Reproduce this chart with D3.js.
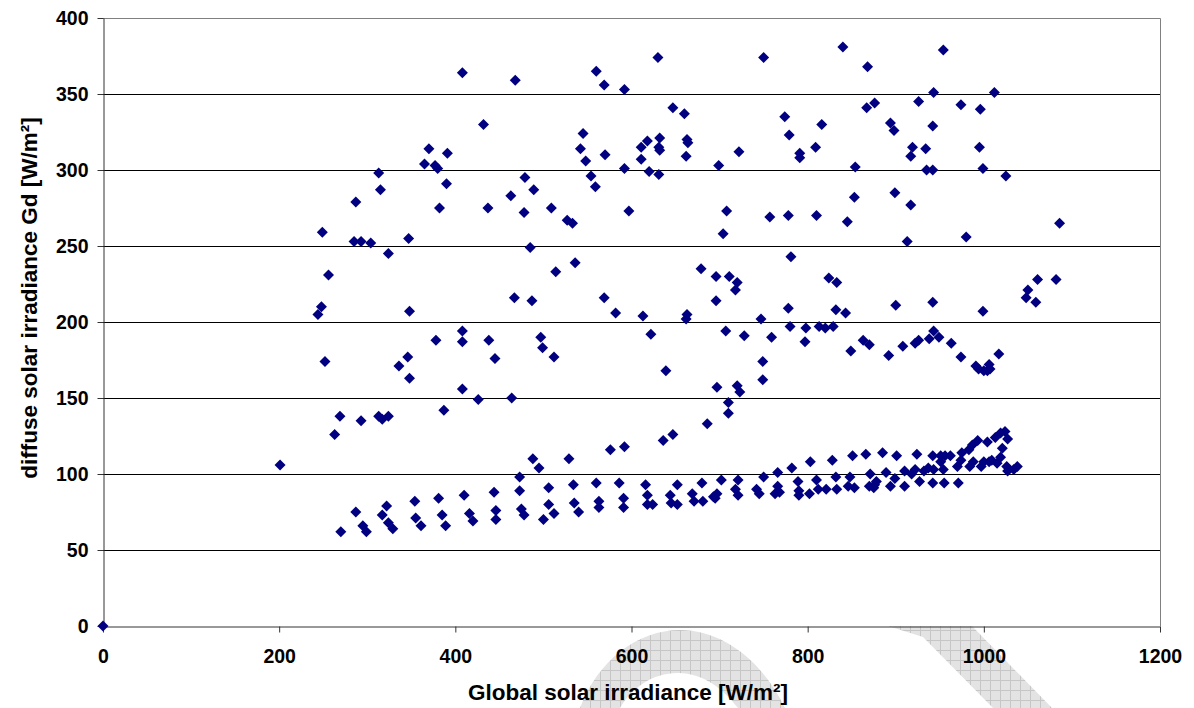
<!DOCTYPE html>
<html>
<head>
<meta charset="utf-8">
<script src="https://cdn.jsdelivr.net/npm/d3@7"></script>
<style>
  body { margin: 0; background: #fff; }
  svg { display: block; font-family: "Liberation Sans", Arial, sans-serif; font-weight: bold; }
</style>
</head>
<body>
<svg id="chart" width="1194" height="708"></svg>
<script>
// global irradiance G [W/m2]
const globalIrr = [
  0, 201, 244, 248, 249, 252, 256, 263, 269, 285, 287, 293, 293, 304, 313, 315, 313, 317, 324, 324,
  336, 346, 347, 348, 348, 365, 370, 377, 380, 378, 382, 387, 390, 391, 408, 408, 408, 408, 426, 432,
  437, 438, 445, 463, 464, 467, 468, 478, 479, 485, 487, 489, 497, 499, 509, 512, 514, 527, 533, 536,
  542, 545, 548, 554, 559, 560, 569, 569, 570, 582, 592, 592, 597, 611, 611, 613, 618, 620, 622, 630,
  631, 631, 632, 632, 639, 647, 660, 662, 662, 663, 663, 664, 679, 696, 696, 697, 699, 704, 707, 708,
  710, 710, 711, 718, 720, 720, 722, 723, 728, 747, 749, 749, 750, 757, 759, 774, 778, 778, 779, 780,
  781, 791, 791, 797, 798, 809, 810, 813, 816, 820, 824, 829, 832, 833, 840, 843, 845, 849, 853, 854,
  863, 867, 868, 870, 876, 892, 894, 898, 899, 900, 908, 913, 917, 917, 919, 922, 926, 926, 934, 935,
  938, 942, 942, 942, 943, 943, 949, 954, 963, 974, 974, 980, 991, 994, 995, 996, 999, 999, 1000, 1004,
  1006, 1007, 1012, 1017, 1025, 1048, 1050, 1059, 1061, 1082, 1086,
  // rising middle band
  473, 488, 495, 529, 576, 592, 636, 647, 686,
  // lower band
  270, 287, 295, 299, 317, 322, 324, 329, 354, 355, 361, 381, 385, 389, 410, 416, 420, 444, 446, 446,
  473, 475, 478, 500, 506, 506, 512, 534, 535, 540, 560, 563, 563, 586, 591, 591, 616, 618, 618, 624,
  644, 645, 652, 652, 669, 671, 681, 680, 693, 697, 695, 702, 718, 721, 721, 742, 745, 750, 763, 766,
  766, 768, 782, 789, 790, 790, 803, 802, 810, 812, 821, 828, 832, 833, 848, 846, 853, 851, 866, 871,
  870, 876, 878, 875, 885, 889, 899, 894, 901, 910, 910, 918, 922, 924, 927, 932, 937, 943, 942, 951,
  956, 962, 942, 951, 954, 955, 971, 970, 975, 974, 983, 987, 993, 1004, 984, 988, 997, 1000, 1006, 1009,
  1015, 1019, 1021, 1013, 1019, 1024, 1027, 1026, 1034, 1038, 1027
];

// diffuse irradiance Gd [W/m2]
const diffuseIrr = [
  0, 106, 205, 210, 259, 174, 231, 126, 138, 253, 279, 253, 135, 252, 298, 287, 138, 136, 138, 245,
  171, 177, 255, 207, 163, 304, 314, 303, 301, 188, 275, 142, 291, 311, 364, 194, 187, 156, 149, 330,
  275, 188, 176, 283, 150, 216, 359, 272, 295, 249, 214, 287, 190, 183, 275, 177, 233, 267, 265, 239,
  314, 324, 306, 296, 289, 365, 356, 216, 310, 206, 353, 301, 273, 315, 307, 204, 319, 299, 192, 374,
  297, 315, 321, 313, 168, 341, 337, 309, 202, 205, 320, 318, 235, 230, 214, 157, 303, 258, 194, 273,
  147, 140, 230, 221, 226, 158, 312, 154, 191, 202, 174, 162, 374, 269, 190, 335, 270, 209, 323, 197,
  243, 311, 308, 187, 196, 315, 270, 197, 330, 196, 229, 197, 208, 226, 381, 206, 266, 181, 282, 302,
  188, 341, 368, 185, 344, 178, 331, 326, 285, 211, 184, 253, 277, 309, 315, 186, 188, 345, 314, 300,
  189, 300, 329, 213, 351, 194, 190, 379, 186, 343, 177, 256, 171, 169, 315, 340, 207, 301, 168, 168,
  172, 169, 351, 179, 296, 216, 221, 213, 228, 228, 265,
  98, 110, 104, 110, 116, 118, 122, 126, 133,
  62, 75, 66, 62, 73, 79, 68, 64, 82, 71, 66, 84, 73, 66, 86, 74, 69, 88, 76, 70,
  89, 77, 73, 70, 91, 80, 74, 93, 81, 75, 94, 82, 78, 94, 84, 78, 93, 86, 80, 80,
  86, 81, 80, 93, 87, 82, 82, 94, 85, 87, 84, 96, 90, 86, 96, 90, 87, 98, 87, 101,
  92, 88, 104, 95, 89, 86, 108, 87, 96, 90, 90, 109, 98, 90, 98, 92, 91, 112, 113, 100,
  92, 93, 95, 91, 114, 101, 97, 92, 112, 102, 92, 100, 103, 113, 95, 102, 104, 103, 112, 112,
  112, 112, 94, 108, 103, 94, 94, 105, 114, 109, 116, 119, 122, 121, 105, 108, 105, 108, 108, 109,
  107, 111, 117, 124, 127, 128, 123, 105, 103, 105, 102
];

const xTicks = [0, 200, 400, 600, 800, 1000, 1200];
const yTicks = [0, 50, 100, 150, 200, 250, 300, 350, 400];

const points = globalIrr.map((g, i) => ({ g, gd: diffuseIrr[i] }));

const svg = d3.select("#chart");
const plot = { left: 103, right: 1160, top: 18, bottom: 626 };

const x = d3.scaleLinear().domain([0, 1200]).range([plot.left, plot.right]);
const y = d3.scaleLinear().domain([0, 400]).range([plot.bottom, plot.top]);

// grey watermark behind the axis area
const defs = svg.append("defs");
const pat = defs.append("pattern")
  .attr("id", "wm").attr("patternUnits", "userSpaceOnUse")
  .attr("width", 10).attr("height", 10);
pat.append("rect").attr("width", 10).attr("height", 10).attr("fill", "#e3e3e3");
pat.append("path").attr("d", "M0,0.5H10M0.5,0V10")
  .attr("stroke", "#c6c6c6").attr("stroke-width", 1);

svg.append("path")
  .attr("d", "M580,708 C598,660 638,630 680,630 C722,630 762,660 785,708 L738,708 C724,690 704,673 678,673 C652,673 632,688 620,708 Z")
  .attr("fill", "url(#wm)");
svg.append("path")
  .attr("d", "M888,626 L923,637 L993,708 L1052,708 L972,626 Z")
  .attr("fill", "url(#wm)");

// gridlines
svg.append("g")
  .selectAll("line")
  .data(yTicks.filter(v => v > 0 && v < 400))
  .join("line")
  .attr("x1", plot.left).attr("x2", plot.right)
  .attr("y1", d => Math.round(y(d)) + 0.5).attr("y2", d => Math.round(y(d)) + 0.5)
  .attr("stroke", "#000").attr("stroke-width", 1);

// plot border (top / right)
svg.append("path")
  .attr("d", `M${plot.left},${plot.top + 0.5}H${plot.right + 0.5}V${plot.bottom}`)
  .attr("fill", "none").attr("stroke", "#808080").attr("stroke-width", 1);

// axes
const yAxis = svg.append("g")
  .attr("transform", `translate(${plot.left + 0.5},0)`)
  .call(d3.axisLeft(y).tickValues(yTicks).tickFormat(d3.format("d"))
    .tickSize(6).tickPadding(9).tickSizeOuter(0));
const xAxis = svg.append("g")
  .attr("transform", `translate(0,${plot.bottom + 0.5})`)
  .call(d3.axisBottom(x).tickValues(xTicks).tickFormat(d3.format("d"))
    .tickSize(6).tickPadding(17).tickSizeOuter(0));

[yAxis, xAxis].forEach(a => {
  a.select(".domain").attr("stroke", "#333");
  a.selectAll(".tick line").attr("stroke", "#333");
  a.selectAll(".tick text")
    .attr("fill", "#000")
    .style("font-size", "19.5px")
    .style("font-weight", "bold")
    .style("font-family", "'Liberation Sans', Arial, sans-serif");
});

// markers
const diamond = "M0,-5.5L5.5,0L0,5.5L-5.5,0Z";
svg.append("g")
  .selectAll("path")
  .data(points)
  .join("path")
  .attr("d", diamond)
  .attr("transform", d => `translate(${x(d.g)},${y(d.gd)})`)
  .attr("fill", "#000080");

// axis titles
svg.append("text")
  .attr("x", 628).attr("y", 700)
  .attr("text-anchor", "middle")
  .style("font-size", "22.5px")
  .text("Global solar irradiance [W/m²]");

svg.append("text")
  .attr("transform", "translate(37,298) rotate(-90)")
  .attr("text-anchor", "middle")
  .style("font-size", "22.5px")
  .text("diffuse solar irradiance Gd [W/m²]");
</script>
</body>
</html>
